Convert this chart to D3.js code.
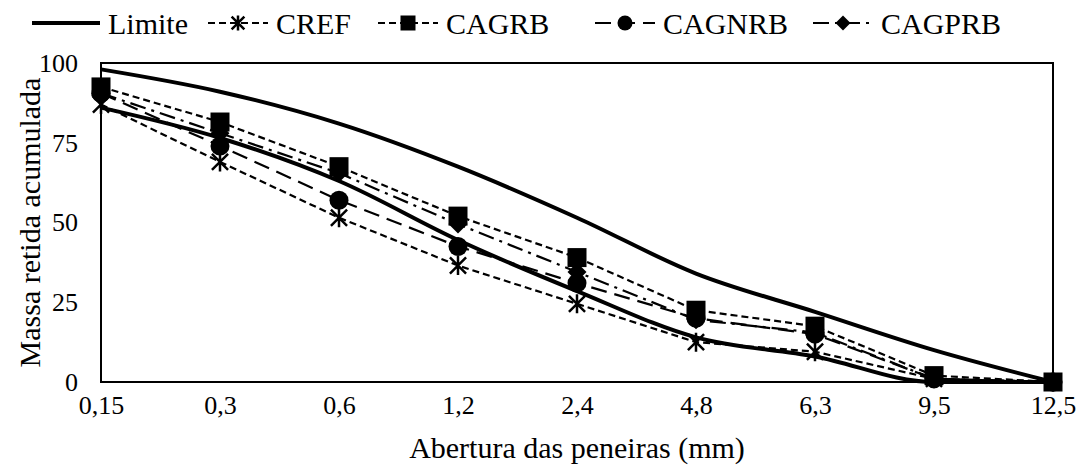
<!DOCTYPE html>
<html>
<head>
<meta charset="utf-8">
<script src="https://cdn.jsdelivr.net/npm/d3@7"></script>
<style>
  body { margin: 0; background: #fff; }
  svg text { font-family: "Times New Roman", "Liberation Serif", serif; fill: #000; }
</style>
</head>
<body>
<div id="chart-display"></div>
<script>
// peneiras (mm) e massa retida acumulada (%)
const sieves = ["0,15", "0,3", "0,6", "1,2", "2,4", "4,8", "6,3", "9,5", "12,5"];
const limiteSup = [98, 91, 81, 67.5, 51.5, 34, 22, 10, 0];
const limiteInf = [86, 76.5, 63, 44.5, 28.5, 14, 8, 0, 0];
const cref = [87, 69, 51.5, 36.5, 24.5, 12.5, 9.5, 1, 0];
const cagrb = [92.5, 81.5, 67.5, 52, 39, 22.5, 17.5, 2, 0];
const cagnrb = [90.5, 74, 57, 42.5, 31, 20, 15, 1, 0];
const cagprb = [90.5, 78, 65.5, 49.5, 34.5, 19.5, 15.5, 1, 0];
const yTicks = [0, 25, 50, 75, 100];

let width = 1077,
    height = 472;
let margin = {top: 63, right: 24, bottom: 90, left: 101};
const serif = '"Times New Roman", "Liberation Serif", serif';

let svg = d3.select("#chart-display")
    .append("svg")
    .attr("width", width)
    .attr("height", height)
    .attr("font-family", serif);

let x = d3.scalePoint()
    .domain(sieves)
    .range([margin.left, width - margin.right]);

let y = d3.scaleLinear()
    .domain([0, 100])
    .range([height - margin.bottom, margin.top]);

// series styles
var series = [
    {name: "Limite", values: limiteSup, dash: null, w: 4, marker: null, smooth: true},
    {name: "Limite", values: limiteInf, dash: null, w: 4, marker: null, smooth: true, noLegend: true},
    {name: "CREF", values: cref, dash: "7,4", w: 2.2, marker: "asterisk"},
    {name: "CAGRB", values: cagrb, dash: "7,4", w: 2.2, marker: "square"},
    {name: "CAGNRB", values: cagnrb, dash: "16,8", w: 2.2, marker: "circle"},
    {name: "CAGPRB", values: cagprb, dash: "16,6,3,6", w: 2.2, marker: "diamond"}
];

function drawMarker(g, type, cx, cy, s) {
    let h = s / 2;
    if (type == "square") {
        g.append("rect").attr("x", cx - h).attr("y", cy - h)
            .attr("width", s).attr("height", s).attr("fill", "#000");
    } else if (type == "circle") {
        g.append("circle").attr("cx", cx).attr("cy", cy).attr("r", h).attr("fill", "#000");
    } else if (type == "diamond") {
        g.append("path")
            .attr("d", `M${cx},${cy - h}L${cx + h},${cy}L${cx},${cy + h}L${cx - h},${cy}Z`)
            .attr("fill", "#000");
    } else if (type == "asterisk") {
        let d = h * 0.85;
        g.append("path")
            .attr("d", `M${cx},${cy - h}V${cy + h}M${cx - d},${cy - d}L${cx + d},${cy + d}M${cx - d},${cy + d}L${cx + d},${cy - d}`)
            .attr("stroke", "#000").attr("stroke-width", 2.5).attr("fill", "none");
    }
}

// axes
let xAxis = svg.append("g")
    .attr("transform", `translate(0,${y(0) + 6})`)
    .call(d3.axisBottom(x).tickSize(0).tickPadding(8));
xAxis.attr("font-family", serif);
xAxis.select(".domain").remove();
xAxis.selectAll("text").attr("font-size", 26);

let yAxis = svg.append("g")
    .attr("transform", `translate(${margin.left - 23},0)`)
    .call(d3.axisLeft(y).tickValues(yTicks).tickSize(0).tickPadding(0));
yAxis.attr("font-family", serif);
yAxis.select(".domain").remove();
yAxis.selectAll("text").attr("font-size", 26);

// plot frame
svg.append("rect")
    .attr("x", margin.left)
    .attr("y", margin.top)
    .attr("width", width - margin.right - margin.left)
    .attr("height", y(0) - margin.top)
    .attr("fill", "none")
    .attr("stroke", "#000")
    .attr("stroke-width", 2);

// lines
series.forEach(function(s) {
    let line = d3.line()
        .x((d, i) => x(sieves[i]))
        .y(d => y(d))
        .curve(s.smooth ? d3.curveMonotoneX : d3.curveLinear);
    svg.append("path")
        .datum(s.values)
        .attr("d", line)
        .attr("fill", "none")
        .attr("stroke", "#000")
        .attr("stroke-width", s.w)
        .attr("stroke-dasharray", s.dash);
});

// markers
series.forEach(function(s) {
    if (!s.marker) return;
    let g = svg.append("g").attr("class", "markers");
    s.values.forEach(function(v, i) {
        drawMarker(g, s.marker, x(sieves[i]), y(v), 19);
    });
});

// legend
let legendX = [32, 208, 378, 595, 813];
let legendY = 23;
let leg = svg.append("g").attr("class", "legend");
series.filter(s => !s.noLegend).forEach(function(s, i) {
    let x0 = legendX[i];
    let x1 = s.marker ? x0 + 60 : x0 + 68;
    leg.append("line")
        .attr("x1", x0).attr("x2", x1)
        .attr("y1", legendY).attr("y2", legendY)
        .attr("stroke", "#000")
        .attr("stroke-width", s.w)
        .attr("stroke-dasharray", s.dash);
    if (s.marker) drawMarker(leg, s.marker, (x0 + x1) / 2, legendY, 15);
    leg.append("text")
        .attr("x", x1 + 8)
        .attr("y", legendY)
        .attr("dy", "0.35em")
        .attr("font-size", 30)
        .text(s.name);
});

// axis titles
svg.append("text")
    .attr("x", (margin.left + width - margin.right) / 2)
    .attr("y", 458)
    .attr("text-anchor", "middle")
    .attr("font-size", 30)
    .text("Abertura das peneiras (mm)");

svg.append("text")
    .attr("transform", `translate(29,${(margin.top + y(0)) / 2}) rotate(-90)`)
    .attr("text-anchor", "middle")
    .attr("dy", "0.35em")
    .attr("font-size", 30)
    .text("Massa retida acumulada");
</script>
</body>
</html>
